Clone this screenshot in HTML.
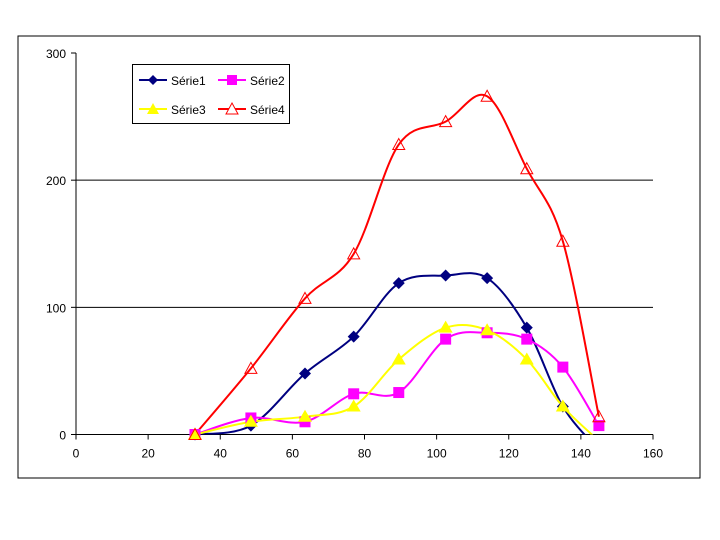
<!DOCTYPE html>
<html><head><meta charset="utf-8"><style>
body{margin:0;background:#fff;}
svg{display:block;font-family:"Liberation Sans",Arial,sans-serif;}
</style></head><body>
<svg id="c" width="720" height="540">
<rect x="18" y="36" width="682" height="442" fill="#fff" stroke="#000" stroke-width="1"/>
<defs><clipPath id="pc"><rect x="76" y="40" width="590" height="394.5"/></clipPath></defs>
<g id="grid"></g><g id="axes"></g><g id="series" clip-path="url(#pc)"></g><g id="marks"></g>
<g>
<rect x="132.5" y="64.5" width="157" height="59" fill="#fff" stroke="#000"/>
<line x1="139" y1="80" x2="167" y2="80" stroke="#000080" stroke-width="2"/><path d="M153 75 L158 80 L153 85 L148 80Z" fill="#000080"/>
<text x="171" y="85" font-size="12">Série1</text>
<line x1="218" y1="80" x2="246" y2="80" stroke="#ff00ff" stroke-width="2"/><rect x="227" y="75" width="10" height="10" fill="#ff00ff"/>
<text x="250" y="85" font-size="12">Série2</text>
<line x1="139" y1="109" x2="167" y2="109" stroke="#ffff00" stroke-width="2"/><path d="M153 103 L159 114 L147 114Z" fill="#ffff00"/>
<text x="171" y="114" font-size="12">Série3</text>
<line x1="218" y1="109" x2="246" y2="109" stroke="#ff0000" stroke-width="2"/><path d="M232 103 L238 114 L226 114Z" fill="#fff" stroke="#ff0000"/>
<text x="250" y="114" font-size="12">Série4</text>
</g>
</svg>
<script>
const xValues=[33,48.5,63.5,77,89.5,102.5,114,125,135,145];
const serie1=[0,7,48,77,119,125,123,84,22,-12];
const serie2=[0,13,10,32,33,75,80,75,53,7];
const serie3=[0,10,14,22,59,84,82,59,22,-5];
const serie4=[0,52,107,142,228,246,266,209,152,14];
const xTicks=[0,20,40,60,80,100,120,140,160];
const yTicks=[0,100,200,300];
const NS="http://www.w3.org/2000/svg";
const X=v=>76+v*(653-76)/160, Y=v=>434.5-v*(434.5-53)/300;
function mk(t,a,p){const e=document.createElementNS(NS,t);for(const k in a)e.setAttribute(k,a[k]);p.appendChild(e);return e;}
const grid=document.getElementById('grid'),axes=document.getElementById('axes'),ser=document.getElementById('series'),marks=document.getElementById('marks');
yTicks.forEach(v=>{if(v>0&&v<300){const l=mk('line',{x1:X(0),x2:X(160),y1:Y(v),y2:Y(v),stroke:'#000'},grid);}
 mk('line',{x1:X(0)-5,x2:X(0),y1:Y(v),y2:Y(v),stroke:'#000'},axes);
 const t=mk('text',{x:X(0)-10,y:Y(v)+5,'text-anchor':'end','font-size':'12'},axes);t.textContent=v;
 });
xTicks.forEach(v=>{mk('line',{x1:X(v),x2:X(v),y1:Y(0),y2:Y(0)+5,stroke:'#000'},axes);
 const t=mk('text',{x:X(v),y:Y(0)+23,'text-anchor':'middle','font-size':'12'},axes);t.textContent=v;
 });
mk('line',{x1:X(0),x2:X(160),y1:Y(0),y2:Y(0),stroke:'#000'},axes);
mk('line',{x1:X(0),x2:X(0),y1:Y(0),y2:Y(300),stroke:'#000'},axes);
function path(vals){const p=vals.map((v,i)=>[X(xValues[i]),Y(v)]);let d='M'+p[0];
 for(let i=0;i<p.length-1;i++){const a=p[i-1]||p[i],b=p[i],c=p[i+1],e=p[i+2]||c;
 const c1=[b[0]+(c[0]-a[0])/6,b[1]+(c[1]-a[1])/6],c2=[c[0]-(e[0]-b[0])/6,c[1]-(e[1]-b[1])/6];
 d+=' C'+c1+' '+c2+' '+c;}return d;}
const cfg=[[serie1,'#000080','diamond','serie1'],[serie2,'#ff00ff','square','serie2'],[serie3,'#ffff00','tri','serie3'],[serie4,'#ff0000','otri','serie4']];
cfg.forEach(([vals,col,m,n])=>{const l=mk('path',{d:path(vals),fill:'none',stroke:col,'stroke-width':2},ser);
 
 vals.forEach((v,i)=>{if(v<0)return;const x=X(xValues[i]),y=Y(v);let e;
  if(m=='diamond')e=mk('path',{d:`M${x} ${y-6}L${x+6} ${y}L${x} ${y+6}L${x-6} ${y}Z`,fill:col},marks);
  else if(m=='square')e=mk('rect',{x:x-5.5,y:y-5.5,width:11,height:11,fill:col},marks);
  else if(m=='tri')e=mk('path',{d:`M${x} ${y-7}L${x+7} ${y+5}L${x-7} ${y+5}Z`,fill:col},marks);
  else e=mk('path',{d:`M${x} ${y-6}L${x+6} ${y+5}L${x-6} ${y+5}Z`,fill:'none',stroke:col},marks);
  });});
</script>
</body></html>
